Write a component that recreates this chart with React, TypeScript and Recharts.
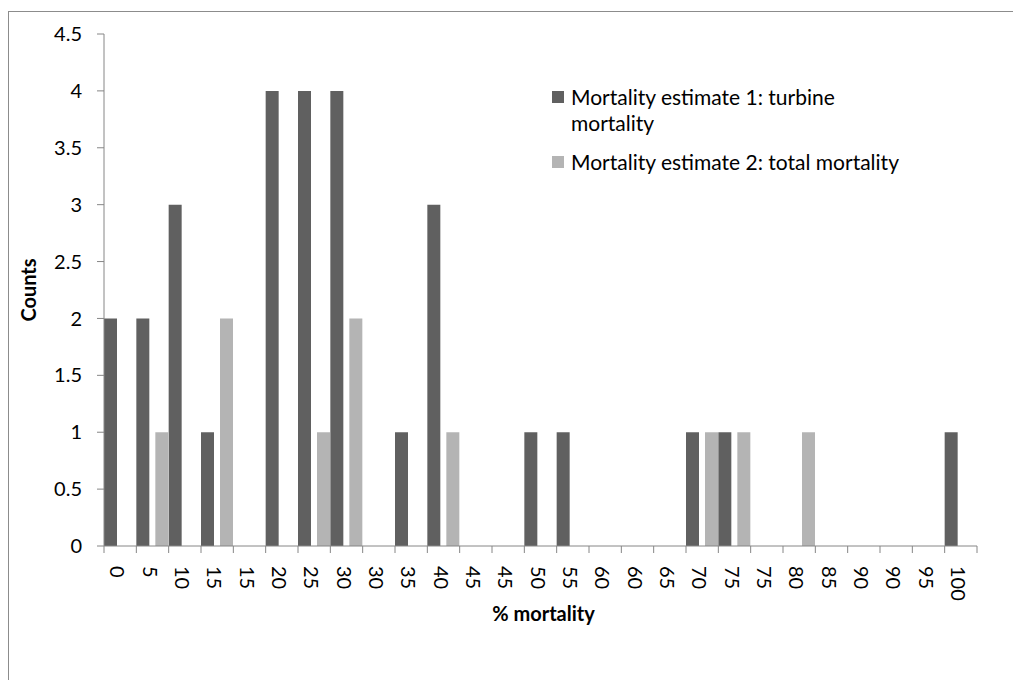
import React from 'react';
import { BarChart, Bar, XAxis, YAxis, Legend } from 'recharts';

const categories = ['0', '5', '10', '15', '15', '20', '25', '30', '30', '35', '40', '45', '45', '50', '55', '60', '60', '65', '70', '75', '75', '80', '85', '90', '90', '95', '100'];
const turbineMortality = [2, 2, 3, 1, 0, 4, 4, 4, 0, 1, 3, 0, 0, 1, 1, 0, 0, 0, 1, 1, 0, 0, 0, 0, 0, 0, 1];
const totalMortality = [0, 1, 0, 2, 0, 0, 1, 2, 0, 0, 1, 0, 0, 0, 0, 0, 0, 0, 1, 1, 0, 1, 0, 0, 0, 0, 0];
const yTicks = [0, 0.5, 1, 1.5, 2, 2.5, 3, 3.5, 4, 4.5];
const seriesNames = ['Mortality estimate 1: turbine mortality', 'Mortality estimate 2: total mortality'];
const seriesColors = ['#606060', '#b4b4b4'];
const xTitle = '% mortality';
const yTitle = 'Counts';

const data = categories.map((c, i) => ({
  cat: c,
  turbine: turbineMortality[i],
  total: totalMortality[i],
}));

const FONT = "Lato, 'Liberation Sans', sans-serif";
const FS = 20;
const LEGEND_FS = 21;
const AXIS = '#868686';

const XTick = (props: any) => {
  const { x, y, payload, index, width, visibleTicksCount } = props;
  const half = typeof payload.offset === 'number' && payload.offset > 0 ? payload.offset : width / visibleTicksCount / 2;
  const ty = y;
  return (
    <g>
      <line x1={x - half} x2={x - half} y1={ty - 7} y2={ty} stroke={AXIS} strokeWidth={1} />
      {index === categories.length - 1 && (
        <line x1={x + half} x2={x + half} y1={ty - 7} y2={ty} stroke={AXIS} strokeWidth={1} />
      )}
      <text
        transform={`translate(${x - 2},${ty + 13}) rotate(90)`}
        textAnchor="start"
        dominantBaseline="central"
        fontFamily={FONT}
        fontSize={FS}
        fill="#000"
      >
        {payload.value}
      </text>
    </g>
  );
};

const YTitle = (props: any) => {
  const vb = props.viewBox || { x: 0, y: 22, width: 95, height: 512 };
  const cx = vb.x + 19;
  const cy = vb.y + vb.height / 2;
  return (
    <text
      x={cx}
      y={cy}
      transform={`rotate(-90 ${cx} ${cy})`}
      textAnchor="middle"
      dominantBaseline="central"
      fontFamily={FONT}
      fontSize={FS}
      fontWeight="bold"
      fill="#000"
    >
      {yTitle}
    </text>
  );
};

const XTitle = (props: any) => {
  const vb = props.viewBox || { x: 95, y: 534, width: 873, height: 100 };
  const cx = vb.x + vb.width / 2 + 3;
  const cy = vb.y + 67;
  return (
    <text
      x={cx}
      y={cy}
      textAnchor="middle"
      dominantBaseline="central"
      fontFamily={FONT}
      fontSize={FS}
      fontWeight="bold"
      fill="#000"
    >
      {xTitle}
    </text>
  );
};

const renderLegend = (props: any) => {
  const payload = props.payload || [];
  return (
    <div style={{ fontFamily: FONT, fontSize: LEGEND_FS, color: '#000' }}>
      {payload.map((e: any, i: number) => (
        <div key={i} style={{ display: 'flex', alignItems: 'flex-start', marginBottom: 13 }}>
          <span
            style={{
              width: 12,
              height: 12,
              background: e.color,
              marginTop: 7,
              marginRight: 7,
              flex: 'none',
            }}
          />
          <span style={{ lineHeight: '26px', maxWidth: 338 }}>{e.value}</span>
        </div>
      ))}
    </div>
  );
};

export default function App() {
  return (
    <div
      style={{
        position: 'fixed',
        left: 8,
        top: 11,
        width: 1010,
        height: 680,
        border: '1px solid #8c8c8c',
        background: '#fff',
      }}
    >
      <BarChart
        width={1000}
        height={668}
        data={data}
        margin={{ top: 22, right: 32, bottom: 34, left: 0 }}
        barCategoryGap={0}
        barGap={6}
      >
        <XAxis
          dataKey="cat"
          type="category"
          allowDuplicatedCategory={true}
          interval={0}
          height={100}
          tickSize={7}
          tickMargin={0}
          tickLine={false}
          axisLine={{ stroke: AXIS, strokeWidth: 1 }}
          tick={<XTick />}
          label={{ content: XTitle }}
        />
        <YAxis
          type="number"
          domain={[0, 4.5]}
          ticks={yTicks}
          width={95}
          tickSize={7}
          tickMargin={15}
          interval={0}
          axisLine={{ stroke: AXIS, strokeWidth: 1 }}
          tickLine={{ stroke: AXIS, strokeWidth: 1 }}
          tick={{ fill: '#000', fontSize: FS, fontFamily: FONT }}
          label={{ content: YTitle }}
        />
        <Legend
          layout="vertical"
          align="center"
          verticalAlign="middle"
          content={renderLegend}
          wrapperStyle={{ left: 543, top: 72, width: 380, right: 'auto', bottom: 'auto' }}
        />
        <Bar dataKey="turbine" name={seriesNames[0]} fill={seriesColors[0]} isAnimationActive={false} />
        <Bar dataKey="total" name={seriesNames[1]} fill={seriesColors[1]} isAnimationActive={false} />
      </BarChart>
    </div>
  );
}
